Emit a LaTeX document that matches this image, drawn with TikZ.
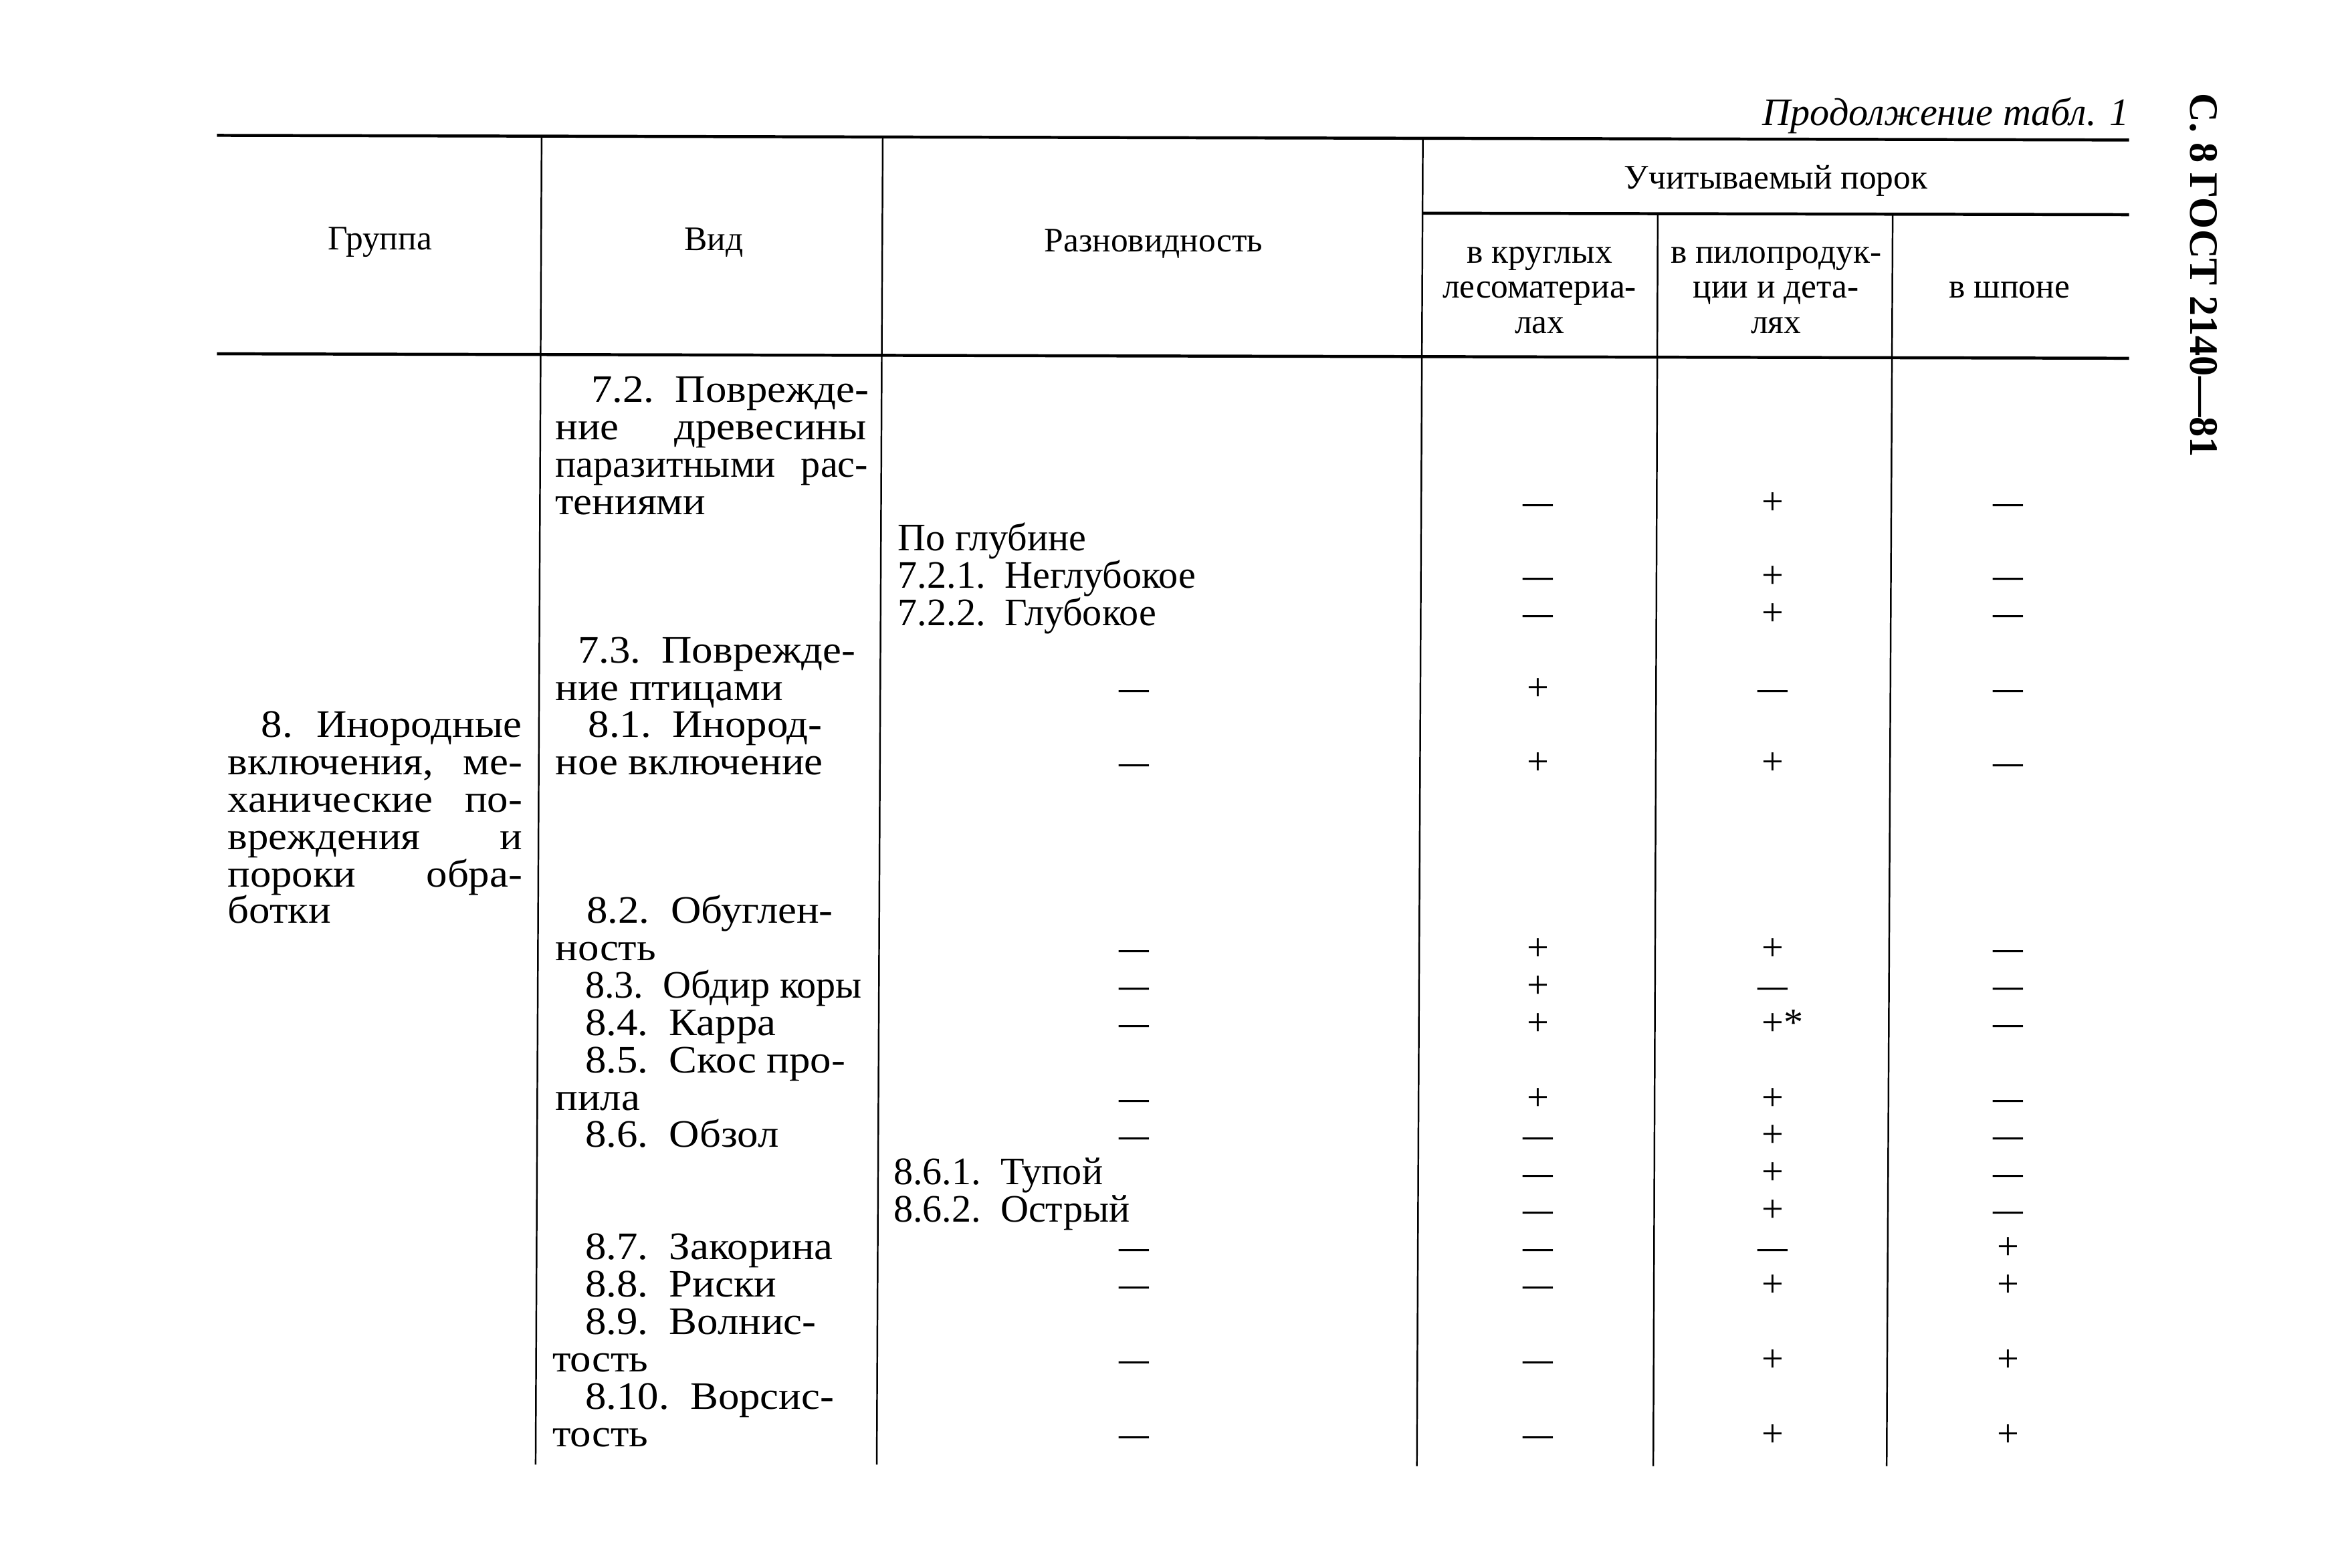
\documentclass[tikz,border=0pt]{standalone}
\usepackage{fontspec}
\setmainfont{Liberation Serif}
\newfontfamily\widefont[FakeStretch=1.08]{Liberation Serif}
\newcommand\bodyfs{\fontsize{26}{25}\selectfont}
\newcommand\headfs{\fontsize{23}{23.5}\selectfont}
\newcommand\jline[3]{\hbox to #1pt{#2\hfill #3}}
\newcommand\symm{—}
\newcommand\symp{+}
\newcommand\syms{+\rlap{*}}
\begin{document}
\begin{tikzpicture}[x=1pt,y=-1pt,
  rule/.style={line width=2pt},
  vrule/.style={line width=1.1pt},
  txt/.style={anchor=base west, inner sep=0pt, font=\bodyfs},
  wtxt/.style={anchor=base west, inner sep=0pt, font=\widefont\bodyfs},
  hd/.style={anchor=center, inner sep=0pt, font=\headfs, align=center},
  symm/.style={anchor=base, inner sep=0pt, font=\bfseries\fontsize{20}{20}\selectfont, yshift=1.3pt},
  symp/.style={anchor=base, inner sep=0pt, font=\bodyfs},
  syms/.style={anchor=base, inner sep=0pt, font=\bodyfs}]
\useasboundingbox (0,0) rectangle (1568,1048);
\fill[white] (0,0) rectangle (1568,1048);

% caption and side header
\node[anchor=base east, inner sep=0pt, font=\itshape\fontsize{26}{26}\selectfont] (cap) at (1423,84) {Продолжение табл. 1};
\node[rotate=-90, inner sep=0pt, font=\bfseries\fontsize{27}{27}\selectfont] (side) at (1473,184) {С. 8 ГОСТ 2140—81};

% rules
\draw[rule] (145,90.5) -- (1423,93.6);
\draw[rule] (951,142.5) -- (1423,143.5);
\draw[rule] (145,236.5) -- (1423,239.5);
\draw[vrule] (362,91) -- (358,979);
\draw[vrule] (590,92) -- (586,979);
\draw[vrule] (951,92.5) -- (947,980);
\draw[vrule] (1108,143) -- (1105,980);
\draw[vrule] (1265,143) -- (1261,980);

% header
\node[hd] (hgr) at (254,162) {Группа};
\node[hd] (hvid) at (477,162) {Вид};
\node[hd] (hraz) at (771,163) {Разновидность};
\node[hd] (huch) at (1187,121) {Учитываемый порок};
\node[hd] (hc1) at (1029,194) {в круглых\\лесоматериа-\\лах};
\node[hd] (hc2) at (1187,194) {в пилопродук-\\ции и дета-\\лях};
\node[hd] (hc3) at (1343,194) {в шпоне};

% group column
\node[wtxt] (g1) at (174.5,493) {\jline{174}{8.}{Инородные}};
\node[wtxt] (g2) at (152,518) {\jline{197}{включения,}{ме-}};
\node[wtxt] (g3) at (152,543) {\jline{197}{ханические}{по-}};
\node[wtxt] (g4) at (152,568) {\jline{197}{вреждения}{и}};
\node[wtxt] (g5) at (152,593) {\jline{197}{пороки}{обра-}};
\node[wtxt] (g6) at (152,617) {ботки};

% vid column
\node[wtxt] (v1) at (395,269) {7.2.\ \ Поврежде-};
\node[wtxt] (v2) at (371,294) {\jline{208}{ние}{древесины}};
\node[txt] (v3) at (371,319) {\jline{209}{паразитными}{рас-}};
\node[wtxt] (v4) at (371,344) {тениями};
\node[wtxt] (v5) at (386,443) {7.3.\ \ Поврежде-};
\node[wtxt] (v6) at (371,468) {ние птицами};
\node[wtxt] (v7) at (393,493) {8.1.\ \ Инород-};
\node[wtxt] (v8) at (371,518) {ное включение};
\node[wtxt] (v9) at (392,617) {8.2.\ \ Обуглен-};
\node[wtxt] (v10) at (371,642) {ность};
\node[txt] (v11) at (391,667) {8.3.\ \ Обдир коры};
\node[wtxt] (v12) at (391,692) {8.4.\ \ Карра};
\node[wtxt] (v13) at (391,717) {8.5.\ \ Скос про-};
\node[wtxt] (v14) at (371,742) {пила};
\node[wtxt] (v15) at (391,767) {8.6.\ \ Обзол};
\node[wtxt] (v16) at (391,842) {8.7.\ \ Закорина};
\node[wtxt] (v17) at (391,867) {8.8.\ \ Риски};
\node[wtxt] (v18) at (391,892) {8.9.\ \ Волнис-};
\node[wtxt] (v19) at (369,917) {тость};
\node[wtxt] (v20) at (391,942) {8.10.\ \ Ворсис-};
\node[wtxt] (v21) at (369,967) {тость};

% raznovidnost column
\node[txt] (r1) at (600,368) {По глубине};
\node[txt] (r2) at (600,393) {7.2.1.\ \ Неглубокое};
\node[txt] (r3) at (600,418) {7.2.2.\ \ Глубокое};
\node[txt] (r4) at (597,792) {8.6.1.\ \ Тупой};
\node[txt] (r5) at (597,817) {8.6.2.\ \ Острый};

% marks
\foreach \yy/\vals [count=\i] in {
  344/{n,m,p,m}, 393/{n,m,p,m}, 418/{n,m,p,m},
  468/{m,p,m,m}, 518/{m,p,p,m}, 642/{m,p,p,m},
  667/{m,p,m,m}, 692/{m,p,s,m}, 742/{m,p,p,m},
  767/{m,m,p,m}, 792/{n,m,p,m}, 817/{n,m,p,m},
  842/{m,m,m,p}, 867/{m,m,p,p}, 917/{m,m,p,p}, 967/{m,m,p,p}}{
  \foreach \v [count=\j] in \vals {
    \pgfmathsetmacro\xx{{758,1028,1185,1342}[\j-1]}
    \if\v n\else
      \node[sym\v] (m\i-\j) at (\xx,\yy) {\csname sym\v\endcsname};
    \fi
  }
}
\end{tikzpicture}
\end{document}
